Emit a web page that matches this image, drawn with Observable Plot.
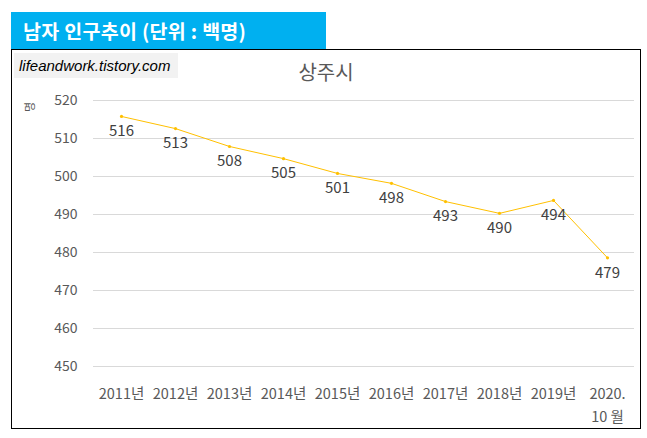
<!DOCTYPE html>
<html><head><meta charset="utf-8">
<script src="https://cdn.jsdelivr.net/npm/d3@7"></script>
<script src="https://cdn.jsdelivr.net/npm/@observablehq/plot@0.6"></script>
<style>
body{margin:0;background:#fff;font-family:"Noto Sans CJK KR","Noto Sans",sans-serif;}
#wrap{position:relative;width:647px;height:438px;}
#hdr{position:absolute;left:11px;top:12px;width:315px;height:37px;background:#00b0f0;color:#fff;font-weight:bold;font-size:19.5px;line-height:37px;padding-left:12px;box-sizing:border-box;letter-spacing:0.3px;}
#box{position:absolute;left:11px;top:49px;width:630px;height:380px;border:1px solid #000;box-sizing:border-box;}
#wm{position:absolute;left:14px;top:53px;width:164px;height:25px;background:#f2f2f2;font-style:italic;font-size:15px;line-height:25px;padding-left:5px;box-sizing:border-box;color:#000;font-family:"Liberation Sans","DejaVu Sans",sans-serif;}
#ttl{position:absolute;left:0;width:652px;top:57px;text-align:center;font-size:20px;color:#595959;}
#ylab{position:absolute;left:24px;top:99px;font-size:11px;color:#595959;transform:rotate(-90deg);}
#chart{position:absolute;left:11px;top:49px;}
</style></head><body>
<div id="wrap">
<div id="box"></div>
<div id="chart"></div>
<div id="hdr">남자 인구추이 (단위 : 백명)</div>
<div id="wm">lifeandwork.tistory.com</div>
<div id="ttl">상주시</div>
<div id="ylab">명</div>
</div>
<script>
const years = ["2011년","2012년","2013년","2014년","2015년","2016년","2017년","2018년","2019년","2020.\n10 월"];
const values = [515.8, 512.6, 507.9, 504.7, 500.8, 498.2, 493.4, 490.3, 493.7, 478.6];
const labels = [516, 513, 508, 505, 501, 498, 493, 490, 494, 479];
const yTicks = [450, 460, 470, 480, 490, 500, 510, 520];

const data = years.map((y, i) => ({year: y, value: values[i], label: labels[i]}));

const chart = Plot.plot({
  width: 629, height: 379,
  marginLeft: 82, marginRight: 6, marginTop: 51, marginBottom: 62,
  style: {fontFamily: '"Noto Sans CJK KR", sans-serif', fontSize: "14px", color: "#595959", background: "transparent"},
  x: {type: "point", domain: years, padding: 0.5, label: null},
  y: {domain: [450, 520], label: null},
  marks: [
    Plot.gridY(yTicks, {stroke: "#d9d9d9", strokeOpacity: 1}),
    Plot.axisY(yTicks, {tickSize: 0, tickPadding: 16, fill: "#595959", fontSize: 14, label: null}),
    Plot.axisX({tickSize: 0, tickPadding: 16, fill: "#595959", fontSize: 14.5, lineHeight: 1.6, textAnchor: "middle", label: null}),
    Plot.line(data, {x: "year", y: "value", stroke: "#ffc000", strokeWidth: 1}),
    Plot.dot(data, {x: "year", y: "value", fill: "#ffc000", r: 1.6}),
    Plot.text(data, {x: "year", y: "value", text: "label", dy: 15, fill: "#404040", fontSize: 15})
  ]
});
document.getElementById("chart").appendChild(chart);
</script>
</body></html>
